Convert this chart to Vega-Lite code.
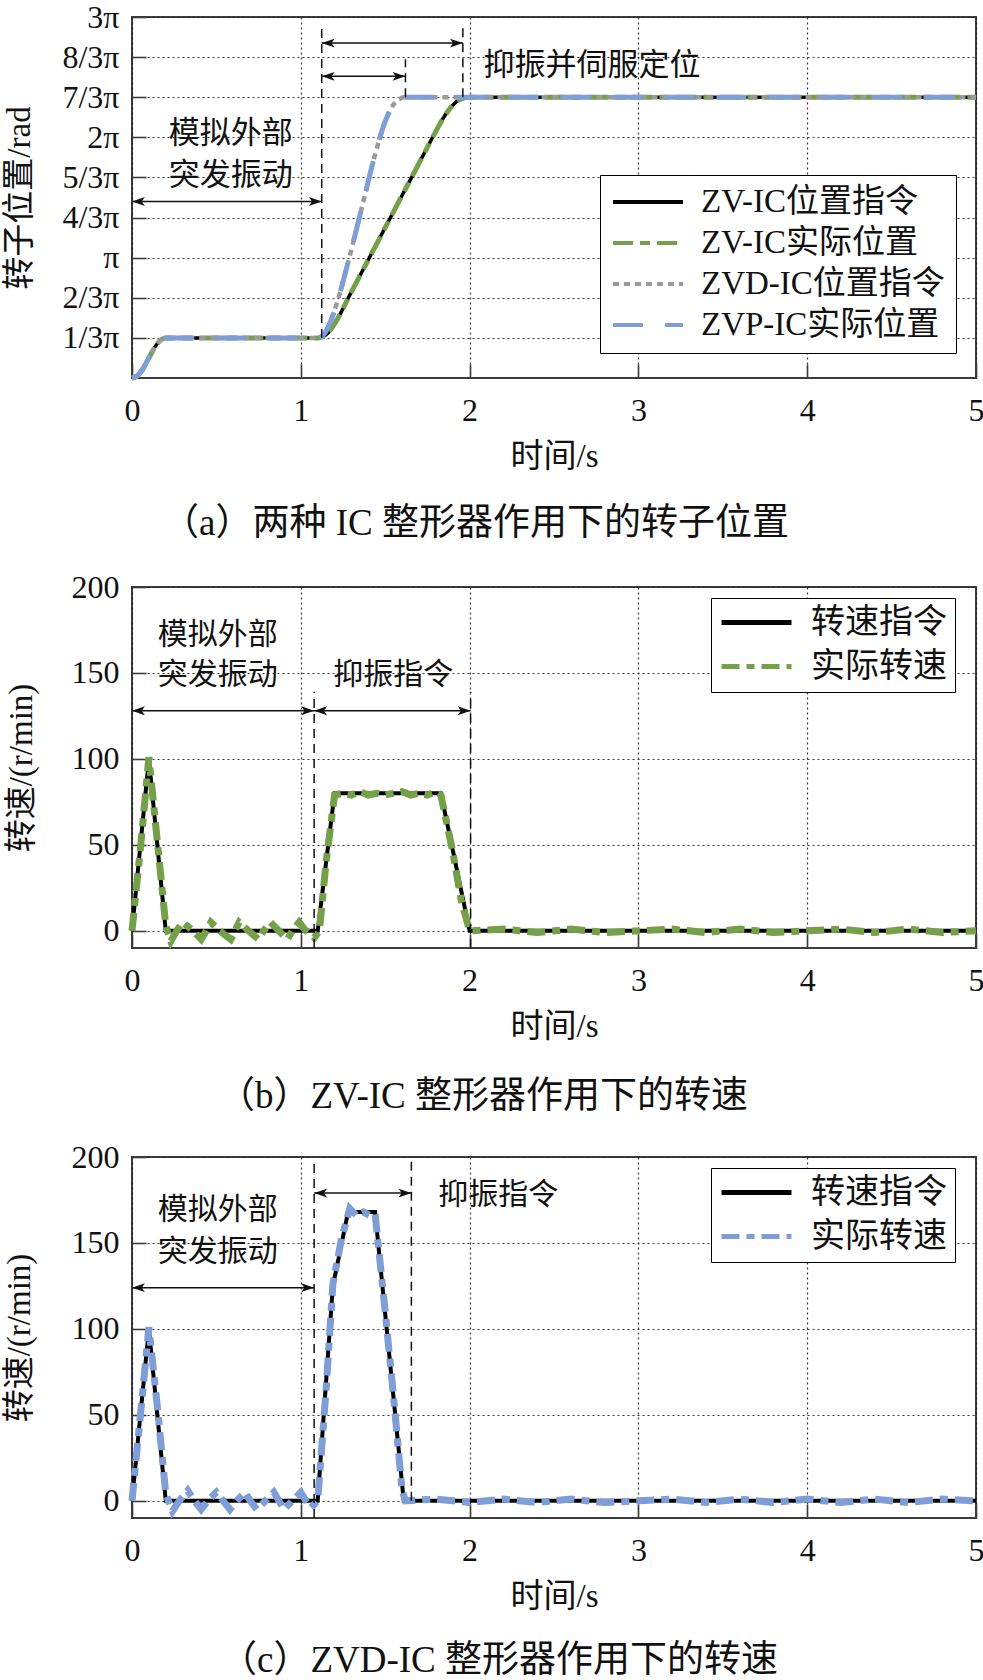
{
  "$schema": "https://vega.github.io/schema/vega-lite/v6.json",
  "background": "white",
  "padding": {"left": 2, "top": 0, "right": 0, "bottom": 0},
  "bounds": "flush",
  "spacing": 209,
  "resolve": {
    "scale": {"color": "independent", "strokeDash": "independent"},
    "legend": {"color": "independent", "strokeDash": "independent"}
  },
  "config": {
    "font": "Liberation Serif, Noto Sans CJK SC",
    "view": {"stroke": "#3c3c3c", "strokeWidth": 2},
    "axis": {
      "labelFont": "Liberation Serif",
      "labelFontSize": 32,
      "labelColor": "#111111",
      "titleFont": "Liberation Serif, Noto Sans CJK SC",
      "titleFontSize": 33,
      "titleFontWeight": "normal",
      "titleColor": "#111111",
      "domain": false,
      "grid": true,
      "gridColor": "#222222",
      "gridDash": [2, 3],
      "gridWidth": 1.2,
      "gridOpacity": 0.9,
      "ticks": true,
      "tickSize": -14,
      "tickColor": "#3c3c3c",
      "tickWidth": 1.6,
      "labelFlush": false,
      "labelOverlap": false
    },
    "axisX": {"labelPadding": 31, "titlePadding": 14, "format": "d"},
    "axisY": {"labelPadding": 27, "titleBaseline": "middle"},
    "title": {"font": "Liberation Serif, Noto Sans CJK SC", "fontSize": 37, "fontWeight": "normal", "color": "#111111"}
  },
  "datasets": {
    "posA": [
      {"s": "ZV-IC位置指令", "t": 0, "v": 0}, {"s": "ZV-IC位置指令", "t": 0.03, "v": 0.052}, {"s": "ZV-IC位置指令", "t": 0.06, "v": 0.209}, {"s": "ZV-IC位置指令", "t": 0.1, "v": 0.524}, {"s": "ZV-IC位置指令", "t": 0.14, "v": 0.838}, {"s": "ZV-IC位置指令", "t": 0.17, "v": 0.995}, {"s": "ZV-IC位置指令", "t": 0.2, "v": 1.047}, {"s": "ZV-IC位置指令", "t": 1.1, "v": 1.047}, {"s": "ZV-IC位置指令", "t": 1.13, "v": 1.079}, {"s": "ZV-IC位置指令", "t": 1.16, "v": 1.173}, {"s": "ZV-IC位置指令", "t": 1.2, "v": 1.414}, {"s": "ZV-IC位置指令", "t": 1.3, "v": 2.252}, {"s": "ZV-IC位置指令", "t": 1.4, "v": 3.089}, {"s": "ZV-IC位置指令", "t": 1.5, "v": 3.927}, {"s": "ZV-IC位置指令", "t": 1.6, "v": 4.765}, {"s": "ZV-IC位置指令", "t": 1.7, "v": 5.603}, {"s": "ZV-IC位置指令", "t": 1.8, "v": 6.44}, {"s": "ZV-IC位置指令", "t": 1.85, "v": 6.828}, {"s": "ZV-IC位置指令", "t": 1.9, "v": 7.121}, {"s": "ZV-IC位置指令", "t": 1.95, "v": 7.289}, {"s": "ZV-IC位置指令", "t": 2.0, "v": 7.33}, {"s": "ZV-IC位置指令", "t": 5.0, "v": 7.33},
      {"s": "ZV-IC实际位置", "t": 0, "v": 0}, {"s": "ZV-IC实际位置", "t": 0.03, "v": 0.052}, {"s": "ZV-IC实际位置", "t": 0.06, "v": 0.209}, {"s": "ZV-IC实际位置", "t": 0.1, "v": 0.524}, {"s": "ZV-IC实际位置", "t": 0.14, "v": 0.838}, {"s": "ZV-IC实际位置", "t": 0.17, "v": 0.995}, {"s": "ZV-IC实际位置", "t": 0.2, "v": 1.047}, {"s": "ZV-IC实际位置", "t": 1.1, "v": 1.047}, {"s": "ZV-IC实际位置", "t": 1.13, "v": 1.079}, {"s": "ZV-IC实际位置", "t": 1.16, "v": 1.173}, {"s": "ZV-IC实际位置", "t": 1.2, "v": 1.414}, {"s": "ZV-IC实际位置", "t": 1.3, "v": 2.252}, {"s": "ZV-IC实际位置", "t": 1.4, "v": 3.089}, {"s": "ZV-IC实际位置", "t": 1.5, "v": 3.927}, {"s": "ZV-IC实际位置", "t": 1.6, "v": 4.765}, {"s": "ZV-IC实际位置", "t": 1.7, "v": 5.603}, {"s": "ZV-IC实际位置", "t": 1.8, "v": 6.44}, {"s": "ZV-IC实际位置", "t": 1.85, "v": 6.828}, {"s": "ZV-IC实际位置", "t": 1.9, "v": 7.121}, {"s": "ZV-IC实际位置", "t": 1.95, "v": 7.289}, {"s": "ZV-IC实际位置", "t": 2.0, "v": 7.33}, {"s": "ZV-IC实际位置", "t": 5.0, "v": 7.33},
      {"s": "ZVD-IC位置指令", "t": 0, "v": 0}, {"s": "ZVD-IC位置指令", "t": 0.03, "v": 0.052}, {"s": "ZVD-IC位置指令", "t": 0.06, "v": 0.209}, {"s": "ZVD-IC位置指令", "t": 0.1, "v": 0.524}, {"s": "ZVD-IC位置指令", "t": 0.14, "v": 0.838}, {"s": "ZVD-IC位置指令", "t": 0.17, "v": 0.995}, {"s": "ZVD-IC位置指令", "t": 0.2, "v": 1.047}, {"s": "ZVD-IC位置指令", "t": 1.1, "v": 1.047}, {"s": "ZVD-IC位置指令", "t": 1.145, "v": 1.194}, {"s": "ZVD-IC位置指令", "t": 1.19, "v": 1.634}, {"s": "ZVD-IC位置指令", "t": 1.235, "v": 2.272}, {"s": "ZVD-IC位置指令", "t": 1.28, "v": 3.016}, {"s": "ZVD-IC位置指令", "t": 1.36, "v": 4.419}, {"s": "ZVD-IC位置指令", "t": 1.44, "v": 5.833}, {"s": "ZVD-IC位置指令", "t": 1.5, "v": 6.702}, {"s": "ZVD-IC位置指令", "t": 1.55, "v": 7.142}, {"s": "ZVD-IC位置指令", "t": 1.59, "v": 7.299}, {"s": "ZVD-IC位置指令", "t": 1.61, "v": 7.33}, {"s": "ZVD-IC位置指令", "t": 5.0, "v": 7.33},
      {"s": "ZVP-IC实际位置", "t": 0, "v": 0}, {"s": "ZVP-IC实际位置", "t": 0.03, "v": 0.052}, {"s": "ZVP-IC实际位置", "t": 0.06, "v": 0.209}, {"s": "ZVP-IC实际位置", "t": 0.1, "v": 0.524}, {"s": "ZVP-IC实际位置", "t": 0.14, "v": 0.838}, {"s": "ZVP-IC实际位置", "t": 0.17, "v": 0.995}, {"s": "ZVP-IC实际位置", "t": 0.2, "v": 1.047}, {"s": "ZVP-IC实际位置", "t": 1.1, "v": 1.047}, {"s": "ZVP-IC实际位置", "t": 1.145, "v": 1.194}, {"s": "ZVP-IC实际位置", "t": 1.19, "v": 1.634}, {"s": "ZVP-IC实际位置", "t": 1.235, "v": 2.272}, {"s": "ZVP-IC实际位置", "t": 1.28, "v": 3.016}, {"s": "ZVP-IC实际位置", "t": 1.36, "v": 4.419}, {"s": "ZVP-IC实际位置", "t": 1.44, "v": 5.833}, {"s": "ZVP-IC实际位置", "t": 1.5, "v": 6.702}, {"s": "ZVP-IC实际位置", "t": 1.55, "v": 7.142}, {"s": "ZVP-IC实际位置", "t": 1.59, "v": 7.299}, {"s": "ZVP-IC实际位置", "t": 1.61, "v": 7.33}, {"s": "ZVP-IC实际位置", "t": 5.0, "v": 7.33}
    ],
    "vA": [{"t": 1.124, "v": 1.047, "v2": 9.215}, {"t": 1.62, "v": 7.33, "v2": 8.325}, {"t": 1.96, "v": 7.33, "v2": 9.215}],
    "arA": [{"t": 0, "t2": 1.124, "v": 4.608}, {"t": 1.124, "t2": 1.96, "v": 8.744}, {"t": 1.124, "t2": 1.62, "v": 7.875}],
    "txA": [{"t": 0.585, "v": 6.367, "label": "模拟外部"}, {"t": 0.585, "v": 5.267, "label": "突发振动"}, {"t": 2.725, "v": 8.147, "label": "抑振并伺服定位"}],
    "spdB": [
      {"s": "转速指令", "t": 0, "v": 0}, {"s": "转速指令", "t": 0.1, "v": 100}, {"s": "转速指令", "t": 0.2, "v": 0}, {"s": "转速指令", "t": 1.1, "v": 0}, {"s": "转速指令", "t": 1.2, "v": 80}, {"s": "转速指令", "t": 1.83, "v": 80}, {"s": "转速指令", "t": 2.0, "v": 0}, {"s": "转速指令", "t": 5.0, "v": 0},
      {"s": "实际转速", "t": 0, "v": 0}, {"s": "实际转速", "t": 0.05, "v": 48}, {"s": "实际转速", "t": 0.1, "v": 101}, {"s": "实际转速", "t": 0.15, "v": 52}, {"s": "实际转速", "t": 0.2, "v": 3}, {"s": "实际转速", "t": 0.23, "v": -6}, {"s": "实际转速", "t": 0.265, "v": 0}, {"s": "实际转速", "t": 0.3, "v": 5}, {"s": "实际转速", "t": 0.35, "v": 1}, {"s": "实际转速", "t": 0.41, "v": -5}, {"s": "实际转速", "t": 0.44, "v": 0}, {"s": "实际转速", "t": 0.467, "v": 5}, {"s": "实际转速", "t": 0.52, "v": 0}, {"s": "实际转速", "t": 0.585, "v": -5}, {"s": "实际转速", "t": 0.61, "v": 0}, {"s": "实际转速", "t": 0.635, "v": 5}, {"s": "实际转速", "t": 0.69, "v": 0}, {"s": "实际转速", "t": 0.75, "v": -5}, {"s": "实际转速", "t": 0.78, "v": 0}, {"s": "实际转速", "t": 0.82, "v": 5}, {"s": "实际转速", "t": 0.87, "v": 0}, {"s": "实际转速", "t": 0.92, "v": -5}, {"s": "实际转速", "t": 0.95, "v": 0}, {"s": "实际转速", "t": 0.99, "v": 5}, {"s": "实际转速", "t": 1.03, "v": 0}, {"s": "实际转速", "t": 1.08, "v": -4}, {"s": "实际转速", "t": 1.11, "v": 0}, {"s": "实际转速", "t": 1.15, "v": 40}, {"s": "实际转速", "t": 1.2, "v": 79}, {"s": "实际转速", "t": 1.25, "v": 80}, {"s": "实际转速", "t": 1.3, "v": 79}, {"s": "实际转速", "t": 1.35, "v": 81}, {"s": "实际转速", "t": 1.4, "v": 79}, {"s": "实际转速", "t": 1.45, "v": 80}, {"s": "实际转速", "t": 1.5, "v": 79}, {"s": "实际转速", "t": 1.55, "v": 80}, {"s": "实际转速", "t": 1.6, "v": 81}, {"s": "实际转速", "t": 1.65, "v": 79}, {"s": "实际转速", "t": 1.7, "v": 80}, {"s": "实际转速", "t": 1.75, "v": 79}, {"s": "实际转速", "t": 1.8, "v": 81}, {"s": "实际转速", "t": 1.83, "v": 79}, {"s": "实际转速", "t": 1.9, "v": 46}, {"s": "实际转速", "t": 1.95, "v": 18}, {"s": "实际转速", "t": 2.0, "v": 0}, {"s": "实际转速", "t": 2.2, "v": 1}, {"s": "实际转速", "t": 2.4, "v": -1}, {"s": "实际转速", "t": 2.6, "v": 1}, {"s": "实际转速", "t": 2.8, "v": -1}, {"s": "实际转速", "t": 3.0, "v": 0}, {"s": "实际转速", "t": 3.2, "v": 1}, {"s": "实际转速", "t": 3.4, "v": -1}, {"s": "实际转速", "t": 3.6, "v": 1}, {"s": "实际转速", "t": 3.8, "v": -1}, {"s": "实际转速", "t": 4.0, "v": 0}, {"s": "实际转速", "t": 4.2, "v": 1}, {"s": "实际转速", "t": 4.4, "v": -1}, {"s": "实际转速", "t": 4.6, "v": 1}, {"s": "实际转速", "t": 4.8, "v": -1}, {"s": "实际转速", "t": 5.0, "v": 0}
    ],
    "vB": [{"t": 1.079, "v": -10, "v2": 139}, {"t": 2.006, "v": -10, "v2": 139}],
    "arB": [{"t": 0, "t2": 1.079, "v": 128}, {"t": 1.079, "t2": 2.006, "v": 128}],
    "txB": [{"t": 0.508, "v": 172, "label": "模拟外部"}, {"t": 0.508, "v": 149, "label": "突发振动"}, {"t": 1.547, "v": 149, "label": "抑振指令"}],
    "spdC": [
      {"s": "转速指令", "t": 0, "v": 0}, {"s": "转速指令", "t": 0.1, "v": 100}, {"s": "转速指令", "t": 0.2, "v": 0}, {"s": "转速指令", "t": 1.1, "v": 0}, {"s": "转速指令", "t": 1.19, "v": 125}, {"s": "转速指令", "t": 1.28, "v": 168}, {"s": "转速指令", "t": 1.44, "v": 168}, {"s": "转速指令", "t": 1.61, "v": 0}, {"s": "转速指令", "t": 5.0, "v": 0},
      {"s": "实际转速", "t": 0, "v": 0}, {"s": "实际转速", "t": 0.05, "v": 50}, {"s": "实际转速", "t": 0.1, "v": 101}, {"s": "实际转速", "t": 0.15, "v": 55}, {"s": "实际转速", "t": 0.2, "v": 4}, {"s": "实际转速", "t": 0.24, "v": -6}, {"s": "实际转速", "t": 0.28, "v": 0}, {"s": "实际转速", "t": 0.33, "v": 6}, {"s": "实际转速", "t": 0.37, "v": 0}, {"s": "实际转速", "t": 0.41, "v": -5}, {"s": "实际转速", "t": 0.45, "v": 0}, {"s": "实际转速", "t": 0.5, "v": 5}, {"s": "实际转速", "t": 0.54, "v": 0}, {"s": "实际转速", "t": 0.58, "v": -5}, {"s": "实际转速", "t": 0.62, "v": 0}, {"s": "实际转速", "t": 0.67, "v": 5}, {"s": "实际转速", "t": 0.7, "v": 0}, {"s": "实际转速", "t": 0.74, "v": -5}, {"s": "实际转速", "t": 0.79, "v": 0}, {"s": "实际转速", "t": 0.84, "v": 5}, {"s": "实际转速", "t": 0.87, "v": 0}, {"s": "实际转速", "t": 0.9, "v": -5}, {"s": "实际转速", "t": 0.95, "v": 0}, {"s": "实际转速", "t": 1.0, "v": 5}, {"s": "实际转速", "t": 1.03, "v": 0}, {"s": "实际转速", "t": 1.06, "v": -4}, {"s": "实际转速", "t": 1.1, "v": 0}, {"s": "实际转速", "t": 1.15, "v": 65}, {"s": "实际转速", "t": 1.19, "v": 126}, {"s": "实际转速", "t": 1.24, "v": 152}, {"s": "实际转速", "t": 1.29, "v": 170}, {"s": "实际转速", "t": 1.33, "v": 166}, {"s": "实际转速", "t": 1.37, "v": 168}, {"s": "实际转速", "t": 1.41, "v": 166}, {"s": "实际转速", "t": 1.44, "v": 167}, {"s": "实际转速", "t": 1.5, "v": 110}, {"s": "实际转速", "t": 1.55, "v": 60}, {"s": "实际转速", "t": 1.6, "v": 6}, {"s": "实际转速", "t": 1.62, "v": 0}, {"s": "实际转速", "t": 1.8, "v": 1}, {"s": "实际转速", "t": 2.0, "v": -1}, {"s": "实际转速", "t": 2.2, "v": 1}, {"s": "实际转速", "t": 2.4, "v": -1}, {"s": "实际转速", "t": 2.6, "v": 1}, {"s": "实际转速", "t": 2.8, "v": -1}, {"s": "实际转速", "t": 3.0, "v": 0}, {"s": "实际转速", "t": 3.2, "v": 1}, {"s": "实际转速", "t": 3.4, "v": -1}, {"s": "实际转速", "t": 3.6, "v": 1}, {"s": "实际转速", "t": 3.8, "v": -1}, {"s": "实际转速", "t": 4.0, "v": 1}, {"s": "实际转速", "t": 4.2, "v": -1}, {"s": "实际转速", "t": 4.4, "v": 1}, {"s": "实际转速", "t": 4.6, "v": -1}, {"s": "实际转速", "t": 4.8, "v": 1}, {"s": "实际转速", "t": 5.0, "v": 0}
    ],
    "vC": [{"t": 1.079, "v": -10, "v2": 199}, {"t": 1.655, "v": 0, "v2": 199}],
    "arC": [{"t": 0, "t2": 1.079, "v": 124}, {"t": 1.079, "t2": 1.655, "v": 179}],
    "txC": [{"t": 0.508, "v": 169, "label": "模拟外部"}, {"t": 0.508, "v": 145, "label": "突发振动"}, {"t": 2.17, "v": 178, "label": "抑振指令"}]
  },
  "vconcat": [
    {
      "width": 844,
      "height": 361,
      "title": {"text": "（a）两种 IC 整形器作用下的转子位置", "orient": "bottom", "anchor": "start", "frame": "group", "dx": 30, "offset": 33},
      "layer": [
        {
          "data": {"name": "posA"},
          "transform": [{"filter": "datum.s === 'ZV-IC位置指令'"}],
          "mark": {"type": "line", "strokeWidth": 3.5, "interpolate": "monotone"},
          "encoding": {
            "x": {"field": "t", "type": "quantitative", "title": "时间/s", "scale": {"domain": [0, 5], "nice": false}, "axis": {"values": [0, 1, 2, 3, 4, 5], "labelFont": "Liberation Serif"}},
            "y": {"field": "v", "type": "quantitative", "title": "转子位置/rad", "scale": {"domain": [0, 9.42478], "nice": false, "zero": false},
                  "axis": {"values": [1.0472, 2.0944, 3.14159, 4.18879, 5.23599, 6.28319, 7.33038, 8.37758, 9.42478], "labelExpr": "['','1/3π','2/3π','π','4/3π','5/3π','2π','7/3π','8/3π','3π'][round(datum.value*3/PI)]", "titleX": -113, "labelFont": "Liberation Serif"}},
            "color": {"field": "s", "type": "nominal", "scale": {"domain": ["ZV-IC位置指令", "ZV-IC实际位置", "ZVD-IC位置指令", "ZVP-IC实际位置"], "range": ["#000000", "#74a04a", "#9a9a9a", "#7f9ed8"]},
                      "legend": {"orient": "none", "legendX": 468, "legendY": 158, "title": null, "strokeColor": "#000000", "fillColor": "#ffffff", "padding": 11, "clipHeight": 32, "symbolType": "stroke", "symbolSize": 4900, "symbolStrokeWidth": 4, "labelFontSize": 33, "labelFont": "Liberation Serif, Noto Sans CJK SC", "labelColor": "#111111", "labelOffset": 16, "rowPadding": 8, "labelLimit": 500}},
            "strokeDash": {"field": "s", "type": "nominal", "scale": {"domain": ["ZV-IC位置指令", "ZV-IC实际位置", "ZVD-IC位置指令", "ZVP-IC实际位置"], "range": [[1, 0], [20, 7, 10, 7], [6, 5], [30, 22]]},
                      "legend": {"orient": "none", "legendX": 468, "legendY": 158, "title": null, "strokeColor": "#000000", "fillColor": "#ffffff", "padding": 11, "clipHeight": 32, "symbolType": "stroke", "symbolSize": 4900, "symbolStrokeWidth": 4, "labelFontSize": 33, "labelFont": "Liberation Serif, Noto Sans CJK SC", "labelColor": "#111111", "labelOffset": 16, "rowPadding": 8, "labelLimit": 500}}
          }
        },
        {
          "data": {"name": "posA"},
          "transform": [{"filter": "datum.s === 'ZV-IC实际位置'"}],
          "mark": {"type": "line", "strokeWidth": 5, "interpolate": "monotone"},
          "encoding": {
            "x": {"field": "t", "type": "quantitative", "title": "时间/s"},
            "y": {"field": "v", "type": "quantitative", "title": "转子位置/rad"},
            "color": {"field": "s", "type": "nominal"},
            "strokeDash": {"field": "s", "type": "nominal"}
          }
        },
        {
          "data": {"name": "posA"},
          "transform": [{"filter": "datum.s === 'ZVD-IC位置指令'"}],
          "mark": {"type": "line", "strokeWidth": 4.5, "interpolate": "monotone"},
          "encoding": {
            "x": {"field": "t", "type": "quantitative", "title": "时间/s"},
            "y": {"field": "v", "type": "quantitative", "title": "转子位置/rad"},
            "color": {"field": "s", "type": "nominal"},
            "strokeDash": {"field": "s", "type": "nominal"}
          }
        },
        {
          "data": {"name": "posA"},
          "transform": [{"filter": "datum.s === 'ZVP-IC实际位置'"}],
          "mark": {"type": "line", "strokeWidth": 5, "interpolate": "monotone"},
          "encoding": {
            "x": {"field": "t", "type": "quantitative", "title": "时间/s"},
            "y": {"field": "v", "type": "quantitative", "title": "转子位置/rad"},
            "color": {"field": "s", "type": "nominal"},
            "strokeDash": {"field": "s", "type": "nominal"}
          }
        },
        {
          "data": {"name": "vA"},
          "mark": {"type": "rule", "strokeDash": [9, 6], "strokeWidth": 1.5, "color": "#111111"},
          "encoding": {
            "x": {"field": "t", "type": "quantitative", "title": "时间/s"},
            "y": {"field": "v", "type": "quantitative", "title": "转子位置/rad"},
            "y2": {"field": "v2", "title": "转子位置/rad"}
          }
        },
        {
          "data": {"name": "arA"},
          "mark": {"type": "rule", "strokeWidth": 1.5, "color": "#111111"},
          "encoding": {
            "x": {"field": "t", "type": "quantitative", "title": "时间/s"},
            "x2": {"field": "t2", "title": "时间/s"},
            "y": {"field": "v", "type": "quantitative", "title": "转子位置/rad"}
          }
        },
        {
          "data": {"name": "arA"},
          "mark": {"type": "point", "shape": "M0,0L1.6,-0.55L1.2,0L1.6,0.55Z", "size": 260, "filled": true, "color": "#111111", "opacity": 1},
          "encoding": {
            "x": {"field": "t", "type": "quantitative", "title": "时间/s"},
            "y": {"field": "v", "type": "quantitative", "title": "转子位置/rad"}
          }
        },
        {
          "data": {"name": "arA"},
          "mark": {"type": "point", "shape": "M0,0L-1.6,-0.55L-1.2,0L-1.6,0.55Z", "size": 260, "filled": true, "color": "#111111", "opacity": 1},
          "encoding": {
            "x": {"field": "t2", "type": "quantitative", "title": "时间/s"},
            "y": {"field": "v", "type": "quantitative", "title": "转子位置/rad"}
          }
        },
        {
          "data": {"name": "txA"},
          "mark": {"type": "text", "font": "Noto Sans CJK SC", "fontSize": 31, "color": "#111111", "align": "center", "baseline": "middle"},
          "encoding": {
            "x": {"field": "t", "type": "quantitative", "title": "时间/s"},
            "y": {"field": "v", "type": "quantitative", "title": "转子位置/rad"},
            "text": {"field": "label"}
          }
        }
      ]
    },
    {
      "width": 844,
      "height": 361,
      "title": {"text": "（b）ZV-IC 整形器作用下的转速", "orient": "bottom", "anchor": "start", "frame": "group", "dx": 86, "offset": 36},
      "layer": [
        {
          "data": {"name": "spdB"},
          "transform": [{"filter": "datum.s === '转速指令'"}],
          "mark": {"type": "line", "strokeWidth": 4},
          "encoding": {
            "x": {"field": "t", "type": "quantitative", "title": "时间/s", "scale": {"domain": [0, 5], "nice": false}, "axis": {"values": [0, 1, 2, 3, 4, 5], "labelFont": "Liberation Serif"}},
            "y": {"field": "v", "type": "quantitative", "title": "转速/(r/min)", "scale": {"domain": [-10, 200], "nice": false, "zero": false}, "axis": {"values": [0, 50, 100, 150, 200], "titleX": -111, "labelFont": "Liberation Serif"}},
            "color": {"field": "s", "type": "nominal", "scale": {"domain": ["转速指令", "实际转速"], "range": ["#000000", "#74a04a"]},
                      "legend": {"orient": "none", "legendX": 579, "legendY": 11, "title": null, "strokeColor": "#000000", "fillColor": "#ffffff", "padding": 8, "clipHeight": 33, "symbolType": "stroke", "symbolSize": 4900, "symbolStrokeWidth": 5, "labelFontSize": 34, "labelFont": "Liberation Serif, Noto Sans CJK SC", "labelColor": "#111111", "labelOffset": 17, "rowPadding": 9, "labelLimit": 500}},
            "strokeDash": {"field": "s", "type": "nominal", "scale": {"domain": ["转速指令", "实际转速"], "range": [[1, 0], [18, 7, 8, 7]]},
                      "legend": {"orient": "none", "legendX": 579, "legendY": 11, "title": null, "strokeColor": "#000000", "fillColor": "#ffffff", "padding": 8, "clipHeight": 33, "symbolType": "stroke", "symbolSize": 4900, "symbolStrokeWidth": 5, "labelFontSize": 34, "labelFont": "Liberation Serif, Noto Sans CJK SC", "labelColor": "#111111", "labelOffset": 17, "rowPadding": 9, "labelLimit": 500}}
          }
        },
        {
          "data": {"name": "spdB"},
          "transform": [{"filter": "datum.s === '实际转速'"}],
          "mark": {"type": "line", "strokeWidth": 7},
          "encoding": {
            "x": {"field": "t", "type": "quantitative", "title": "时间/s"},
            "y": {"field": "v", "type": "quantitative", "title": "转速/(r/min)"},
            "color": {"field": "s", "type": "nominal"},
            "strokeDash": {"field": "s", "type": "nominal"}
          }
        },
        {
          "data": {"name": "vB"},
          "mark": {"type": "rule", "strokeDash": [9, 6], "strokeWidth": 1.5, "color": "#111111"},
          "encoding": {
            "x": {"field": "t", "type": "quantitative", "title": "时间/s"},
            "y": {"field": "v", "type": "quantitative", "title": "转速/(r/min)"},
            "y2": {"field": "v2", "title": "转速/(r/min)"}
          }
        },
        {
          "data": {"name": "arB"},
          "mark": {"type": "rule", "strokeWidth": 1.5, "color": "#111111"},
          "encoding": {
            "x": {"field": "t", "type": "quantitative", "title": "时间/s"},
            "x2": {"field": "t2", "title": "时间/s"},
            "y": {"field": "v", "type": "quantitative", "title": "转速/(r/min)"}
          }
        },
        {
          "data": {"name": "arB"},
          "mark": {"type": "point", "shape": "M0,0L1.6,-0.55L1.2,0L1.6,0.55Z", "size": 260, "filled": true, "color": "#111111", "opacity": 1},
          "encoding": {
            "x": {"field": "t", "type": "quantitative", "title": "时间/s"},
            "y": {"field": "v", "type": "quantitative", "title": "转速/(r/min)"}
          }
        },
        {
          "data": {"name": "arB"},
          "mark": {"type": "point", "shape": "M0,0L-1.6,-0.55L-1.2,0L-1.6,0.55Z", "size": 260, "filled": true, "color": "#111111", "opacity": 1},
          "encoding": {
            "x": {"field": "t2", "type": "quantitative", "title": "时间/s"},
            "y": {"field": "v", "type": "quantitative", "title": "转速/(r/min)"}
          }
        },
        {
          "data": {"name": "txB"},
          "mark": {"type": "text", "font": "Noto Sans CJK SC", "fontSize": 30, "color": "#111111", "align": "center", "baseline": "middle"},
          "encoding": {
            "x": {"field": "t", "type": "quantitative", "title": "时间/s"},
            "y": {"field": "v", "type": "quantitative", "title": "转速/(r/min)"},
            "text": {"field": "label"}
          }
        }
      ]
    },
    {
      "width": 844,
      "height": 361,
      "title": {"text": "（c）ZVD-IC 整形器作用下的转速", "orient": "bottom", "anchor": "start", "frame": "group", "dx": 88, "offset": 30},
      "layer": [
        {
          "data": {"name": "spdC"},
          "transform": [{"filter": "datum.s === '转速指令'"}],
          "mark": {"type": "line", "strokeWidth": 4},
          "encoding": {
            "x": {"field": "t", "type": "quantitative", "title": "时间/s", "scale": {"domain": [0, 5], "nice": false}, "axis": {"values": [0, 1, 2, 3, 4, 5], "labelFont": "Liberation Serif"}},
            "y": {"field": "v", "type": "quantitative", "title": "转速/(r/min)", "scale": {"domain": [-10, 200], "nice": false, "zero": false}, "axis": {"values": [0, 50, 100, 150, 200], "titleX": -113, "labelFont": "Liberation Serif"}},
            "color": {"field": "s", "type": "nominal", "scale": {"domain": ["转速指令", "实际转速"], "range": ["#000000", "#7f9ed8"]},
                      "legend": {"orient": "none", "legendX": 579, "legendY": 11, "title": null, "strokeColor": "#000000", "fillColor": "#ffffff", "padding": 8, "clipHeight": 33, "symbolType": "stroke", "symbolSize": 4900, "symbolStrokeWidth": 5, "labelFontSize": 34, "labelFont": "Liberation Serif, Noto Sans CJK SC", "labelColor": "#111111", "labelOffset": 17, "rowPadding": 9, "labelLimit": 500}},
            "strokeDash": {"field": "s", "type": "nominal", "scale": {"domain": ["转速指令", "实际转速"], "range": [[1, 0], [18, 7, 8, 7]]},
                      "legend": {"orient": "none", "legendX": 579, "legendY": 11, "title": null, "strokeColor": "#000000", "fillColor": "#ffffff", "padding": 8, "clipHeight": 33, "symbolType": "stroke", "symbolSize": 4900, "symbolStrokeWidth": 5, "labelFontSize": 34, "labelFont": "Liberation Serif, Noto Sans CJK SC", "labelColor": "#111111", "labelOffset": 17, "rowPadding": 9, "labelLimit": 500}}
          }
        },
        {
          "data": {"name": "spdC"},
          "transform": [{"filter": "datum.s === '实际转速'"}],
          "mark": {"type": "line", "strokeWidth": 7},
          "encoding": {
            "x": {"field": "t", "type": "quantitative", "title": "时间/s"},
            "y": {"field": "v", "type": "quantitative", "title": "转速/(r/min)"},
            "color": {"field": "s", "type": "nominal"},
            "strokeDash": {"field": "s", "type": "nominal"}
          }
        },
        {
          "data": {"name": "vC"},
          "mark": {"type": "rule", "strokeDash": [9, 6], "strokeWidth": 1.5, "color": "#111111"},
          "encoding": {
            "x": {"field": "t", "type": "quantitative", "title": "时间/s"},
            "y": {"field": "v", "type": "quantitative", "title": "转速/(r/min)"},
            "y2": {"field": "v2", "title": "转速/(r/min)"}
          }
        },
        {
          "data": {"name": "arC"},
          "mark": {"type": "rule", "strokeWidth": 1.5, "color": "#111111"},
          "encoding": {
            "x": {"field": "t", "type": "quantitative", "title": "时间/s"},
            "x2": {"field": "t2", "title": "时间/s"},
            "y": {"field": "v", "type": "quantitative", "title": "转速/(r/min)"}
          }
        },
        {
          "data": {"name": "arC"},
          "mark": {"type": "point", "shape": "M0,0L1.6,-0.55L1.2,0L1.6,0.55Z", "size": 260, "filled": true, "color": "#111111", "opacity": 1},
          "encoding": {
            "x": {"field": "t", "type": "quantitative", "title": "时间/s"},
            "y": {"field": "v", "type": "quantitative", "title": "转速/(r/min)"}
          }
        },
        {
          "data": {"name": "arC"},
          "mark": {"type": "point", "shape": "M0,0L-1.6,-0.55L-1.2,0L-1.6,0.55Z", "size": 260, "filled": true, "color": "#111111", "opacity": 1},
          "encoding": {
            "x": {"field": "t2", "type": "quantitative", "title": "时间/s"},
            "y": {"field": "v", "type": "quantitative", "title": "转速/(r/min)"}
          }
        },
        {
          "data": {"name": "txC"},
          "mark": {"type": "text", "font": "Noto Sans CJK SC", "fontSize": 30, "color": "#111111", "align": "center", "baseline": "middle"},
          "encoding": {
            "x": {"field": "t", "type": "quantitative", "title": "时间/s"},
            "y": {"field": "v", "type": "quantitative", "title": "转速/(r/min)"},
            "text": {"field": "label"}
          }
        }
      ]
    }
  ]
}
